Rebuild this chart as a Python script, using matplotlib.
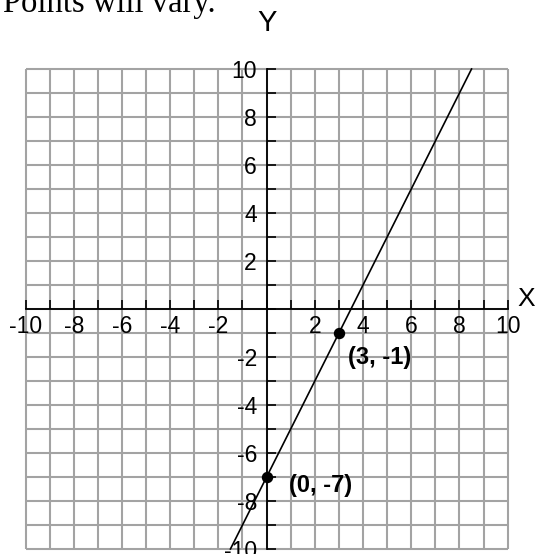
"""
Coordinate plane with the line through (0, -7) and (3, -1).
"""

import matplotlib

matplotlib.use("Agg")
import matplotlib.pyplot as plt
import numpy as np
from matplotlib.ticker import FuncFormatter, MultipleLocator

# data
LINE_X = [-1.5, 8.5]
LINE_Y = [-10, 10]
POINT_X = [3, 0]
POINT_Y = [-1, -7]
POINT_LABELS = ["(3, -1)", "(0, -7)"]
LABEL_X = [3.37, 0.93]
LABEL_Y = [-2.04, -7.34]
AXIS_MIN, AXIS_MAX = -10, 10
TICK_LABELS = [-10, -8, -6, -4, -2, 2, 4, 6, 8, 10]

GRID_COLOR = "#a3a3a3"
SANS = ["Liberation Sans", "DejaVu Sans"]
SERIF = ["Liberation Serif", "DejaVu Serif"]


def tick_fmt(v, _pos):
    iv = int(round(v))
    return str(iv) if iv in TICK_LABELS else ""


def main() -> None:
    fig = plt.figure(figsize=(5.40, 5.54), dpi=100)
    ax = fig.add_axes([25.5 / 540, 5 / 554, 482.2 / 540, 480 / 554])
    ax.set_xlim(AXIS_MIN, AXIS_MAX)
    ax.set_ylim(AXIS_MIN, AXIS_MAX)

    # grid, including outer border
    grid = np.arange(AXIS_MIN, AXIS_MAX + 1)
    ax.vlines(grid, AXIS_MIN, AXIS_MAX, color=GRID_COLOR, lw=1.5, clip_on=False, zorder=1)
    ax.hlines(grid, AXIS_MIN, AXIS_MAX, color=GRID_COLOR, lw=1.5, clip_on=False, zorder=1)

    # axes through origin
    for side in ("top", "right"):
        ax.spines[side].set_visible(False)
    ax.spines["left"].set_position("zero")
    ax.spines["bottom"].set_position("zero")
    for side in ("left", "bottom"):
        ax.spines[side].set_linewidth(1.3)
        ax.spines[side].set_zorder(3)
        ax.spines[side].set_clip_on(False)

    ax.xaxis.set_major_locator(MultipleLocator(1))
    ax.yaxis.set_major_locator(MultipleLocator(1))
    ax.xaxis.set_major_formatter(FuncFormatter(tick_fmt))
    ax.yaxis.set_major_formatter(FuncFormatter(tick_fmt))
    ax.tick_params(axis="x", direction="in", length=6.5, width=1.2, pad=4.5)
    ax.tick_params(axis="y", direction="in", length=6.5, width=1.2, pad=7)
    for lab in ax.get_xticklabels() + ax.get_yticklabels():
        lab.set_fontfamily(SANS)
        lab.set_fontsize(16.5)
    ax.set_facecolor("none")

    # the line and its two points
    ax.plot(LINE_X, LINE_Y, color="black", lw=1.2, zorder=4, clip_on=False)
    ax.plot(POINT_X, POINT_Y, "o", color="black", ms=7.2, zorder=5)
    for lx, ly, text in zip(LABEL_X, LABEL_Y, POINT_LABELS):
        ax.text(lx, ly, text, ha="left", va="center", fontsize=17,
                fontweight="bold", family=SANS, zorder=6)

    # axis names
    ax.text(0, 11.9, "Y", ha="center", va="center", fontsize=21, family=SANS, clip_on=False)
    ax.text(10.77, 0.42, "X", ha="center", va="center", fontsize=19, family=SANS, clip_on=False)

    fig.text(3 / 540, 1 - 12 / 554, "Points will vary.", ha="left", va="baseline",
             fontsize=23.5, family=SERIF)

    fig.savefig("out.png", dpi=100, facecolor="white")
    plt.close(fig)


if __name__ == "__main__":
    main()
